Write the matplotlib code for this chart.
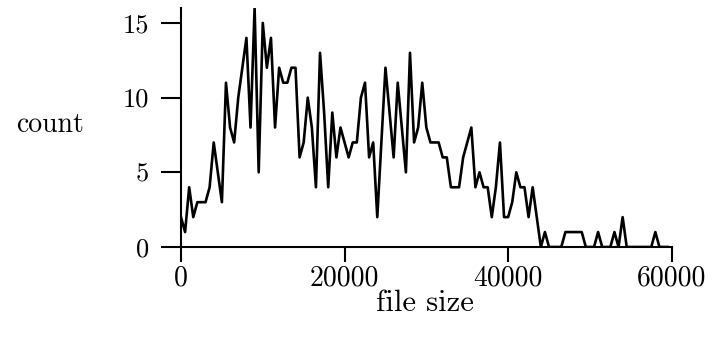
import matplotlib
matplotlib.use("Agg")
import matplotlib.pyplot as plt
import numpy as np

# histogram of file sizes, bin width 500
bin_width = 500
counts = [2, 1, 4, 2, 3, 3, 3, 4, 7, 5,
          3, 11, 8, 7, 10, 12, 14, 8, 16, 5,
          15, 12, 14, 8, 12, 11, 11, 12, 12, 6,
          7, 10, 8, 4, 13, 9, 4, 9, 6, 8,
          7, 6, 7, 7, 10, 11, 6, 7, 2, 7,
          12, 9, 6, 11, 8, 5, 13, 7, 8, 11,
          8, 7, 7, 7, 6, 6, 4, 4, 4, 6,
          7, 8, 4, 5, 4, 4, 2, 4, 7, 2,
          2, 3, 5, 4, 4, 2, 4, 2, 0, 1,
          0, 0, 0, 0, 1, 1, 1, 1, 1, 0,
          0, 0, 1, 0, 0, 0, 1, 0, 2, 0,
          0, 0, 0, 0, 0, 0, 1, 0, 0, 0]
file_sizes = np.arange(len(counts)) * bin_width

xticks = [0, 20000, 40000, 60000]
xtick_labels = ["0", "20000", "40000", "60000"]
yticks = [0, 5, 10, 15]
ytick_labels = ["0", "5", "10", "15"]

plt.rcParams["font.family"] = ["cmr10", "DejaVu Serif"]
plt.rcParams["axes.formatter.use_mathtext"] = True

fig = plt.figure(figsize=(7.13, 3.43), dpi=100)
ax = fig.add_axes([181 / 713, 1 - 247 / 343, 490.7 / 713, 239 / 343])
ax.plot(file_sizes, counts, color="black", lw=1.9)

ax.set_xlim(0, 60000)
ax.set_ylim(0, 16)
ax.spines["top"].set_visible(False)
ax.spines["right"].set_visible(False)
for s in ("left", "bottom"):
    ax.spines[s].set_linewidth(1.5)

ax.set_xticks(xticks)
ax.set_xticklabels(xtick_labels)
ax.set_yticks(yticks)
ax.set_yticklabels(ytick_labels)
ax.tick_params(axis="both", direction="out", width=1.5, colors="black")
ax.tick_params(axis="y", length=14.5, pad=8.4, labelsize=19)
ax.tick_params(axis="x", length=11, pad=2, labelsize=20)

fig.text(50 / 713, 1 - 125 / 343, "count", ha="center", va="center", fontsize=20)
fig.text(425 / 713, 1 - 303 / 343, "file size", ha="center", va="center", fontsize=22)

fig.savefig("out.png", dpi=100, facecolor="white")
